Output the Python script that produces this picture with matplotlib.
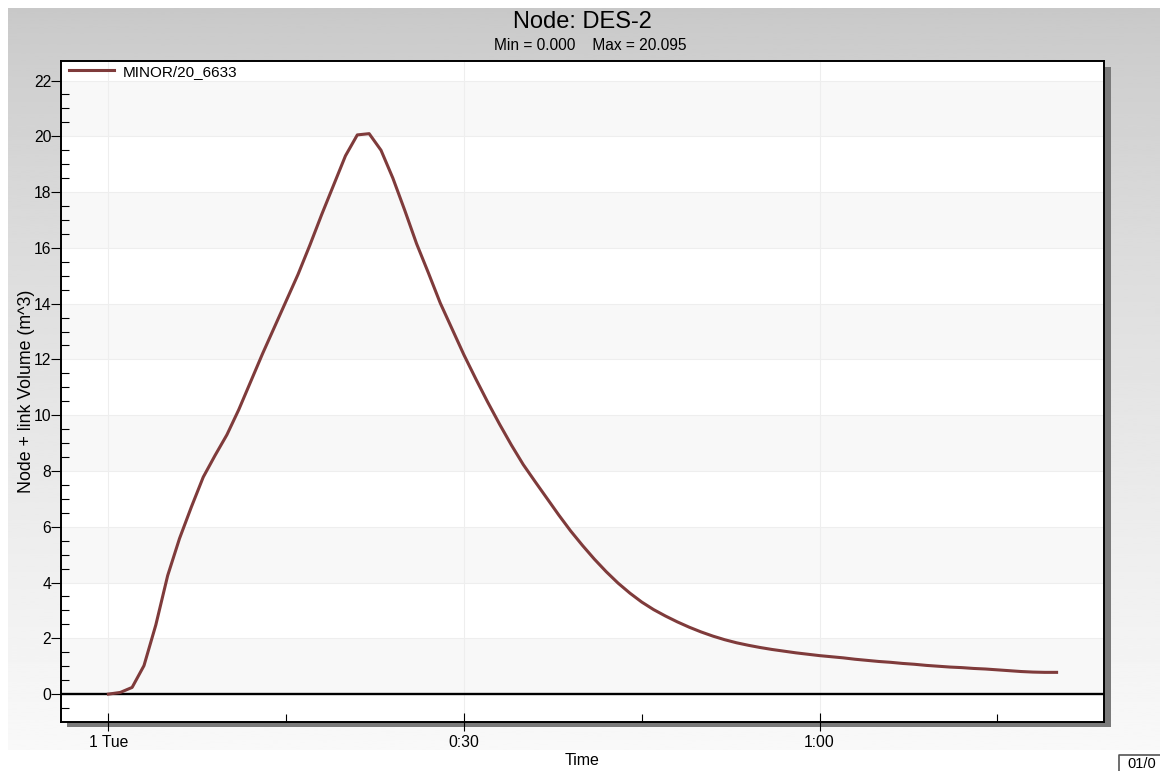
import numpy as np
import matplotlib
matplotlib.use("Agg")
import matplotlib.pyplot as plt
from matplotlib.patches import Rectangle
from matplotlib.ticker import FixedLocator

plt.rcParams['font.family'] = ['Liberation Sans', 'DejaVu Sans']

# Series: minutes after start vs. node + link volume (m^3)
time_min = list(range(0, 81))
volume = [
    0.0, 0.06, 0.24, 1.02, 2.48, 4.25, 5.58, 6.71, 7.78, 8.56,
    9.3, 10.2, 11.2, 12.2, 13.15, 14.1, 15.05, 16.1, 17.2, 18.25,
    19.3, 20.05, 20.095, 19.5, 18.5, 17.35, 16.15, 15.1, 14.02, 13.09,
    12.16, 11.3, 10.47, 9.68, 8.93, 8.23, 7.62, 7.02, 6.42, 5.85,
    5.33, 4.84, 4.39, 3.98, 3.62, 3.3, 3.03, 2.8, 2.59, 2.4,
    2.23, 2.08, 1.95, 1.84, 1.75, 1.67, 1.6, 1.54, 1.48, 1.43,
    1.38, 1.34, 1.3, 1.25, 1.21, 1.17, 1.14, 1.1, 1.07, 1.03,
    1.0, 0.97, 0.95, 0.92, 0.9, 0.87, 0.84, 0.81, 0.79, 0.78,
    0.78,
]
series_name = "MINOR/20_6633"
x_major = [0, 30, 60]
x_major_labels = ["1 Tue", "0:30", "1:00"]
x_minor = [15, 45, 75]

W, H = 1160, 771
fig = plt.figure(figsize=(W / 100, H / 100), dpi=100)
fig.patch.set_facecolor("white")

# gray gradient panel behind everything
bg = fig.add_axes([8 / W, 1 - 750 / H, 1 - 8 / W, (750 - 8) / H], zorder=-10)
grad = np.linspace(0, 1, 256) ** 0.8
grad = 0.785 + (0.975 - 0.785) * grad
bg.imshow(grad[:, None], aspect="auto", cmap="gray", vmin=0, vmax=1,
          extent=[0, 1, 0, 1])
bg.set_axis_off()

left, right, top, bottom = 61, 1104, 61, 722
ax_rect = [left / W, 1 - bottom / H, (right - left) / W, (bottom - top) / H]

# drop shadow
fig.patches.append(Rectangle(((left + 6) / W, 1 - (bottom + 5) / H),
                             (right - left + 1) / W, (bottom - top - 1) / H,
                             transform=fig.transFigure, facecolor="#7a7a7a",
                             edgecolor="none", zorder=-5))

ax = fig.add_axes(ax_rect)
ax.set_facecolor("white")
ax.set_xlim(-4, 84)
ax.set_ylim(-1, 22.7)

# alternating bands
for y0 in range(0, 22, 4):
    ax.axhspan(y0, y0 + 2, color="#f8f8f8", zorder=0, lw=0)
for y0 in range(0, 23, 2):
    ax.axhline(y0, color="#eeeeee", lw=0.8, zorder=0.5)
for x0 in x_major:
    ax.axvline(x0, color="#eeeeee", lw=0.8, zorder=0.5)

ax.axhline(0, color="black", lw=1.7, zorder=2)
ax.plot(time_min, volume, color="#7f3b3b", lw=2.2, zorder=3, label=series_name)

ax.set_xticks(x_major)
ax.set_xticklabels(x_major_labels)
ax.xaxis.set_minor_locator(FixedLocator(x_minor))
ax.set_yticks(range(0, 23, 2))
ax.yaxis.set_minor_locator(FixedLocator(np.arange(-0.5, 22, 0.5)))

ax.tick_params(axis="x", which="major", direction="inout", length=13,
               width=0.8, pad=3, labelsize=11.3)
ax.tick_params(axis="x", which="minor", direction="in", length=6, width=0.8)
ax.tick_params(axis="y", which="major", direction="out", length=7,
               width=0.8, pad=0, labelsize=11.3)
ax.tick_params(axis="y", which="minor", direction="in", length=6, width=0.8)

for s in ax.spines.values():
    s.set_linewidth(1.4)

ax.set_ylabel("Node + link Volume (m^3)", fontsize=12.8)
ax.yaxis.set_label_coords(-0.025, 0.5)
ax.set_xlabel("Time", fontsize=11.5, labelpad=2)

leg = ax.legend(loc="upper left", bbox_to_anchor=(0, 1.006), frameon=False,
                handlelength=2.95, handletextpad=0.6, borderaxespad=0.1,
                borderpad=0.4, fontsize=11)

fig.text(582 / W, 1 - 22 / H, "Node: DES-2", ha="center", va="center",
         fontsize=17)
fig.text(590 / W, 1 - 46 / H, "Min = 0.000    Max = 20.095", ha="center",
         va="center", fontsize=11.2)

# clipped date box at bottom right
fig.text(1127 / W, 1 - 764 / H, "01/0", ha="left", va="center", fontsize=10.5)
fig.add_artist(plt.Line2D([1119 / W, 1119 / W, 1], [0, 1 - 755 / H, 1 - 755 / H],
                          transform=fig.transFigure, color="#555555", lw=1.2))

fig.savefig("out.png", dpi=100)
